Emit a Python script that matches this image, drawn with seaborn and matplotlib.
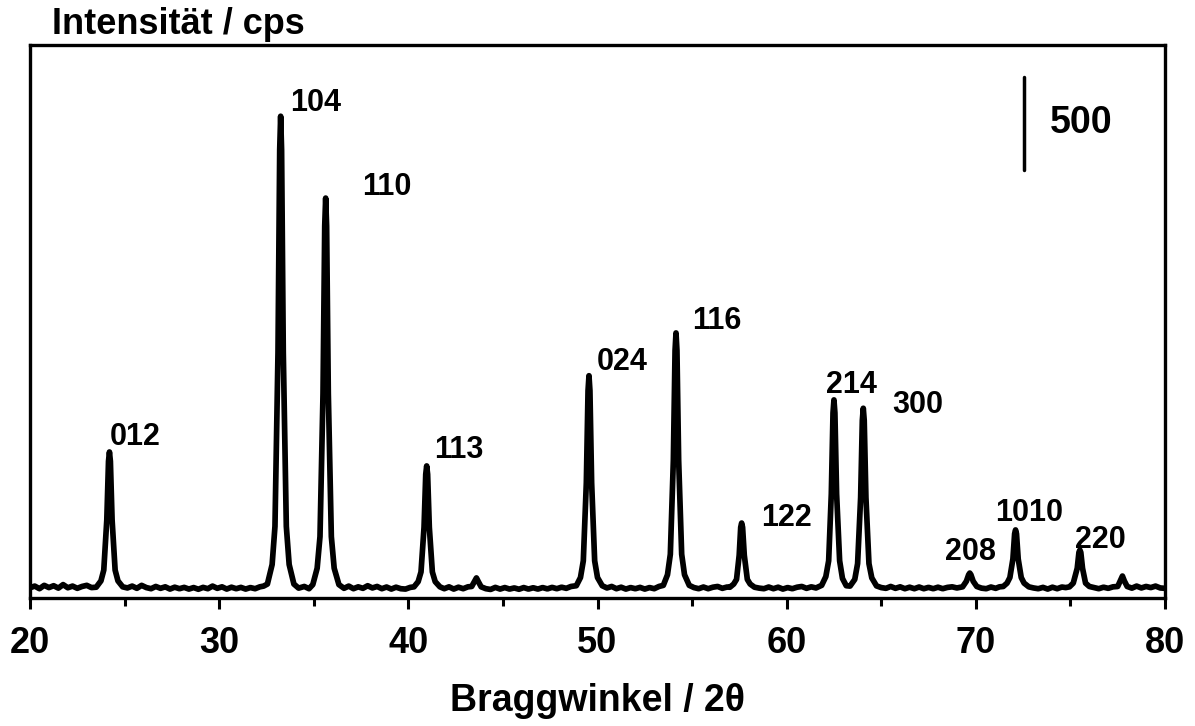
import matplotlib
matplotlib.use("Agg")
import matplotlib.pyplot as plt
import seaborn as sns

# XRD pattern (2theta in degrees, intensity in cps)
two_theta = [
    20.0, 20.25, 20.5, 20.75, 21.0, 21.25, 21.5, 21.75, 22.0, 22.25, 22.5, 22.75, 23.0, 23.25,
    23.5, 23.75, 23.9, 24.06, 24.15, 24.2, 24.25, 24.34, 24.5, 24.65, 24.9,
    25.15, 25.4, 25.65, 25.9, 26.15, 26.4, 26.65, 26.9, 27.15, 27.4, 27.65, 27.9, 28.15, 28.4, 28.65,
    28.9, 29.15, 29.4, 29.65, 29.9, 30.15, 30.4, 30.65, 30.9, 31.15, 31.4, 31.65, 31.9, 32.15, 32.35,
    32.55, 32.8, 32.95, 33.11, 33.2, 33.25, 33.3, 33.39, 33.55, 33.7, 33.95,
    34.2, 34.5, 34.75,
    34.95, 35.18, 35.33, 35.49, 35.58, 35.63, 35.68, 35.77, 35.93, 36.08, 36.33,
    36.6, 36.85, 37.1, 37.35, 37.6, 37.85, 38.1, 38.35, 38.6, 38.85, 39.1, 39.35, 39.6, 39.85, 40.1,
    40.3, 40.52, 40.67, 40.83, 40.92, 40.97, 41.02, 41.11, 41.27, 41.42, 41.67,
    41.9, 42.15, 42.4, 42.65, 42.9, 43.15,
    43.35, 43.5, 43.6, 43.7, 43.85,
    44.1, 44.35, 44.6, 44.85, 45.1, 45.35, 45.6, 45.85, 46.1, 46.35, 46.6, 46.85, 47.1, 47.35, 47.6,
    47.85, 48.1, 48.35, 48.6,
    48.88, 49.1, 49.25, 49.41, 49.5, 49.55, 49.6, 49.69, 49.85, 50.0, 50.25,
    50.5, 50.75, 51.0, 51.25, 51.5, 51.75, 52.0, 52.25, 52.5, 52.75, 53.0, 53.25,
    53.48, 53.7, 53.85, 54.01, 54.1, 54.15, 54.2, 54.29, 54.45, 54.6, 54.85,
    55.1, 55.35, 55.6, 55.85, 56.1, 56.35, 56.6, 56.85,
    57.0, 57.2, 57.35, 57.49, 57.57, 57.62, 57.67, 57.76, 57.92, 58.07, 58.3,
    58.55, 58.8, 59.05, 59.3, 59.55, 59.8, 60.05, 60.3, 60.55, 60.8, 61.05, 61.3, 61.55,
    61.85, 62.07, 62.22, 62.36, 62.45, 62.5, 62.55, 62.64, 62.8, 62.95, 63.15,
    63.35, 63.6, 63.75, 63.91, 64.0, 64.05, 64.1, 64.19, 64.35, 64.5, 64.75,
    65.0, 65.25, 65.5, 65.75, 66.0, 66.25, 66.5, 66.75, 67.0, 67.25, 67.5, 67.75, 68.0, 68.25, 68.5,
    68.75, 69.0,
    69.3, 69.5, 69.62, 69.68, 69.74, 69.86, 70.05,
    70.3, 70.55, 70.8, 71.05, 71.25,
    71.45, 71.65, 71.8, 71.96, 72.05, 72.1, 72.15, 72.24, 72.4, 72.55, 72.8,
    73.05, 73.3, 73.55, 73.8, 74.05, 74.3, 74.55, 74.75,
    74.95, 75.15, 75.36, 75.45, 75.5, 75.55, 75.64, 75.8, 76.0,
    76.25, 76.5, 76.75, 77.0, 77.25,
    77.5, 77.65, 77.75, 77.85, 78.0,
    78.25, 78.5, 78.75, 79.0, 79.25, 79.5, 79.75, 80.0,
]
intensity = [
    55, 64, 50, 68, 56, 66, 53, 72, 55, 64, 52, 62, 68, 56,
    58, 92, 150, 420, 735, 785, 735, 420, 150, 92, 60,
    54, 64, 52, 68, 56, 50, 62, 52, 60, 48, 58, 50, 57, 48, 56,
    47, 57, 50, 64, 52, 60, 48, 58, 50, 57, 48, 56, 50, 60, 64,
    75, 180, 385, 1320, 2410, 2590, 2410, 1320, 385, 180, 75,
    53, 62, 50,
    72, 160, 330, 1100, 2000, 2150, 2000, 1100, 330, 160, 72,
    52, 64, 50, 60, 52, 66, 54, 62, 50, 59, 48, 58, 50, 48, 57,
    60, 88, 140, 380, 665, 710, 665, 380, 140, 88, 60,
    50, 60, 48, 58, 50, 60,
    62, 90, 108, 88, 60,
    50, 46, 57, 48, 56, 48, 54, 47, 56, 48, 55, 48, 56, 49, 57,
    50, 58, 52, 62,
    66, 110, 200, 620, 1115, 1195, 1115, 620, 200, 110, 66,
    54, 62, 50, 58, 48, 56, 50, 57, 48, 56, 50, 62,
    68, 125, 235, 740, 1330, 1425, 1330, 740, 235, 125, 68,
    56, 50, 59, 50, 58, 62, 52, 59,
    58, 75, 100, 230, 380, 403, 380, 230, 100, 75, 58,
    53, 50, 59, 50, 58, 48, 56, 50, 58, 62, 52, 60, 54,
    68, 115, 200, 560, 995, 1065, 995, 560, 200, 105, 66,
    64, 100, 185, 540, 955, 1020, 955, 540, 185, 108, 65,
    56, 52, 62, 52, 60, 50, 58, 50, 59, 50, 57, 50, 58, 50, 57,
    60, 54,
    60, 90, 125, 134, 125, 90, 62,
    53, 50, 59, 52, 60,
    62, 80, 110, 210, 345, 366, 345, 210, 110, 80, 60,
    54, 50, 57, 48, 58, 50, 59, 56,
    60, 80, 160, 245, 258, 245, 160, 80, 62,
    56, 50, 58, 52, 60,
    62, 95, 118, 92, 62,
    53, 64, 54, 62, 56, 64, 54, 52,
]
assert len(two_theta) == len(intensity)

# peak labels (Miller indices) and where they sit
hkl_labels = ["012", "104", "110", "113", "024", "116", "122", "214", "300", "208", "1010", "220"]
label_x = [24.23, 33.74, 37.55, 41.35, 49.97, 55.0, 58.64, 62.07, 65.56, 68.36, 71.0, 75.23]
label_y = [866, 2661, 2210, 796, 1269, 1489, 430, 1145, 1037, 247, 457, 312]

# intensity scale bar
bar_x = 72.54
bar_bottom = 2301
bar_size = 500

sns.set_style("white")
plt.rcParams["font.family"] = ["Liberation Sans", "DejaVu Sans"]
plt.rcParams["font.weight"] = "bold"
plt.rcParams["text.color"] = "black"
plt.rcParams["axes.labelcolor"] = "black"
plt.rcParams["xtick.color"] = "black"

fig = plt.figure(figsize=(11.95, 7.26), dpi=100)
ax = fig.add_axes([30 / 1195, 1 - 598 / 726, 1135 / 1195, 553 / 726])

sns.lineplot(x=two_theta, y=intensity, color="black", linewidth=4.1, ax=ax)

for lab, lx, ly in zip(hkl_labels, label_x, label_y):
    ax.text(lx, ly, lab, fontsize=22, fontweight="bold", ha="left", va="center")

ax.plot([bar_x, bar_x], [bar_bottom, bar_bottom + bar_size], color="black", linewidth=2.5)
ax.text(bar_x + 1.35, bar_bottom + bar_size / 2, str(bar_size), fontsize=27,
        fontweight="bold", ha="left", va="center")

ax.set_xlim(20, 80)
ax.set_ylim(0, 2973)
ax.set_xticks(range(20, 81, 10))
ax.set_xticks(range(25, 80, 10), minor=True)
ax.set_yticks([])
ax.tick_params(axis="x", which="major", direction="out", length=8, width=2.2,
               labelsize=26, pad=12, bottom=True)
ax.tick_params(axis="x", which="minor", direction="out", length=6, width=2.2, bottom=True)
for lab in ax.get_xticklabels():
    lab.set_fontweight("bold")
for sp in ax.spines.values():
    sp.set_linewidth(2.4)
    sp.set_color("black")

ax.set_xlabel("Braggwinkel / 2θ", fontsize=27, fontweight="bold", labelpad=16)
fig.text(52 / 1195, 1 - 24 / 726, "Intensität / cps", fontsize=26, fontweight="bold",
         ha="left", va="center")

fig.savefig("out.png", dpi=100)
